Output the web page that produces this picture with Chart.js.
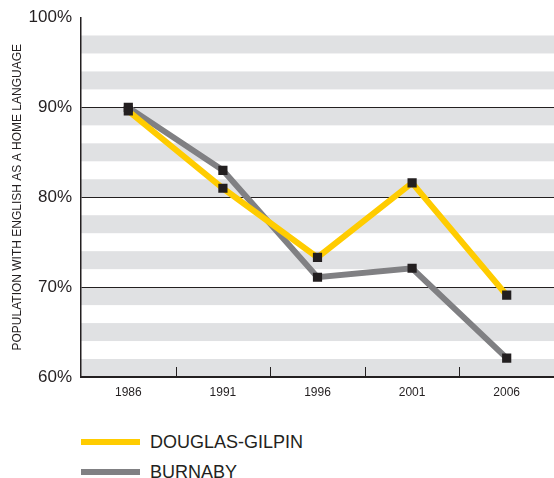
<!DOCTYPE html>
<html>
<head>
<meta charset="utf-8">
<script src="https://cdn.jsdelivr.net/npm/chart.js@4/dist/chart.umd.min.js"></script>
<style>
  html, body { margin: 0; padding: 0; background: #fff; overflow: hidden; }
  #wrap { position: relative; width: 554px; height: 478px; overflow: hidden; font-family: "Liberation Sans", Arial, sans-serif; color: #231f20; }
  #chartBox { position: absolute; left: 0; top: 0; width: 554px; height: 400px; }
  .leg { position: absolute; left: 81px; height: 22px; display: flex; align-items: center; font-size: 18px; }
  .leg .swatch { width: 59px; height: 6px; margin-right: 10px; }
</style>
</head>
<body>
<div id="wrap">
  <div id="chartBox"><canvas id="lineChart"></canvas></div>
  <div id="legend"></div>
</div>
<script>
// datos
const years = ['1986', '1991', '1996', '2001', '2006'];
const douglasGilpin = [89.6, 81.0, 73.3, 81.6, 69.1];
const burnaby = [90.0, 83.0, 71.1, 72.1, 62.1];
const seriesNames = ['DOUGLAS-GILPIN', 'BURNABY'];
const seriesColors = ['#ffcc00', '#808083'];
const yTicks = [60, 70, 80, 90, 100];

const ink = '#231f20';
const stripeColor = '#e0e1e3';

// franjas grises cada 2% (bajo la línea de 90, 80, 70...)
const stripesPlugin = {
    id: 'stripes',
    beforeDraw(chart) {
        const { ctx, chartArea, scales } = chart;
        const y = scales.y;
        ctx.save();
        ctx.fillStyle = stripeColor;
        for (let v = yTicks[0]; v < yTicks[yTicks.length - 1]; v += 4) {
            const top = y.getPixelForValue(v + 2);
            const bottom = y.getPixelForValue(v);
            ctx.fillRect(chartArea.left, top, chartArea.right - chartArea.left, bottom - top);
        }
        ctx.restore();
    }
};

// pequeñas marcas verticales entre categorías, hacia arriba desde el eje
const tickMarksPlugin = {
    id: 'tickMarks',
    afterDraw(chart) {
        const { ctx, chartArea, scales } = chart;
        const x = scales.x;
        ctx.save();
        ctx.strokeStyle = ink;
        ctx.lineWidth = 1;
        for (let i = 0; i < years.length - 1; i++) {
            const px = Math.round((x.getPixelForTick(i) + x.getPixelForTick(i + 1)) / 2) + 0.5;
            ctx.beginPath();
            ctx.moveTo(px, chartArea.bottom);
            ctx.lineTo(px, chartArea.bottom - 10);
            ctx.stroke();
        }
        ctx.restore();
    }
};

function lineSet(name, data, color, order) {
    return {
        label: name,
        data: data,
        borderColor: color,
        backgroundColor: color,
        borderWidth: 6,
        pointRadius: 0,
        tension: 0,
        order: order
    };
}

function markerSet(data) {
    return {
        label: '',
        data: data,
        showLine: false,
        pointStyle: 'rect',
        pointRadius: 6.5,
        pointBorderWidth: 0,
        pointBackgroundColor: ink,
        order: 0
    };
}

new Chart(document.getElementById('lineChart'), {
    type: 'line',
    data: {
        labels: years,
        datasets: [
            lineSet(seriesNames[0], douglasGilpin, seriesColors[0], 1),
            lineSet(seriesNames[1], burnaby, seriesColors[1], 2),
            markerSet(douglasGilpin),
            markerSet(burnaby)
        ]
    },
    options: {
        responsive: true,
        maintainAspectRatio: false,
        animation: false,
        layout: { autoPadding: false, padding: { top: 16, right: 0, left: 0, bottom: 0 } },
        plugins: {
            legend: { display: false },
            tooltip: { enabled: false }
        },
        scales: {
            x: {
                offset: true,
                grid: { display: false, drawTicks: false },
                border: { display: true, color: ink, width: 2 },
                ticks: {
                    color: ink,
                    padding: 8,
                    font: { family: 'Liberation Sans', size: 12 }
                },
                afterFit(scale) { scale.height = 23; }
            },
            y: {
                min: yTicks[0],
                max: yTicks[yTicks.length - 1],
                afterBuildTicks(scale) {
                    scale.ticks = yTicks.map(v => ({ value: v }));
                },
                grid: {
                    drawTicks: false,
                    color: c => (c.tick && c.tick.value === yTicks[yTicks.length - 1]) ? 'rgba(0,0,0,0)' : ink,
                    lineWidth: 1
                },
                border: { display: true, color: ink, width: 1.5 },
                ticks: {
                    color: ink,
                    padding: 9,
                    font: { family: 'Liberation Sans', size: 17, lineHeight: 1 },
                    callback: v => v + '%'
                },
                title: {
                    display: true,
                    text: 'POPULATION WITH ENGLISH AS A HOME LANGUAGE',
                    color: ink,
                    font: { family: 'Liberation Sans', size: 12 },
                    padding: { top: 10, bottom: 0 }
                },
                afterFit(scale) { scale.width = 81; }
            }
        }
    },
    plugins: [stripesPlugin, tickMarksPlugin]
});

// leyenda en HTML, debajo del gráfico
const legendTops = [431, 461];
const legendEl = document.getElementById('legend');
seriesNames.forEach(function(name, i) {
    const row = document.createElement('div');
    row.className = 'leg';
    row.style.top = legendTops[i] + 'px';
    const sw = document.createElement('span');
    sw.className = 'swatch';
    sw.style.background = seriesColors[i];
    const txt = document.createElement('span');
    txt.textContent = name;
    row.appendChild(sw);
    row.appendChild(txt);
    legendEl.appendChild(row);
});
</script>
</body>
</html>
